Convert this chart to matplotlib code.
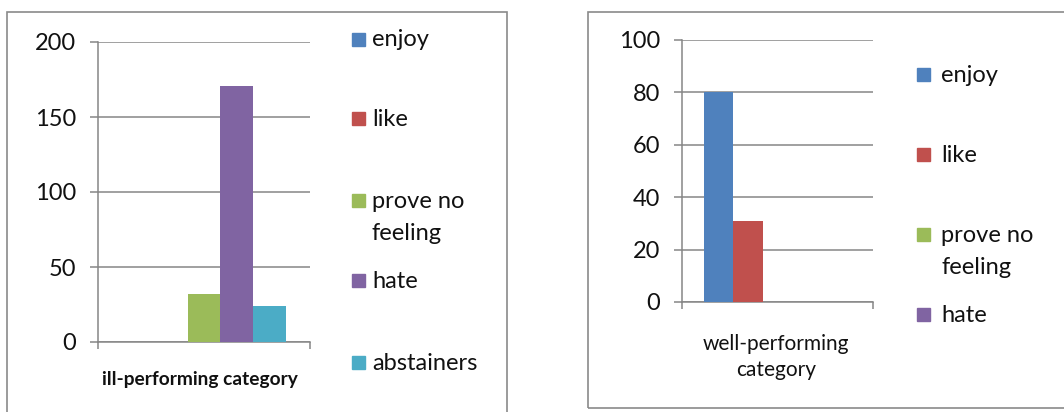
import matplotlib
matplotlib.use("Agg")
import matplotlib.pyplot as plt
from matplotlib.patches import Rectangle

# data
series = ['enjoy', 'like', 'prove no\nfeeling', 'hate', 'abstainers']
colors = ['#4F81BD', '#C0504D', '#9BBB59', '#8064A2', '#4BACC6']
ill_values = [0, 0, 32, 171, 24]
well_values = [80, 31, 0, 0, 0]
ill_ticks = [0, 50, 100, 150, 200]
well_ticks = [0, 20, 40, 60, 80, 100]

plt.rcParams['font.family'] = ['Lato', 'DejaVu Sans']
W, H = 1064, 412
fig = plt.figure(figsize=(W / 100, H / 100), dpi=100)
grid = '#868686'
ink = '#111111'
FS = 17


def px_axes(x0, x1, ytop, ybot):
    return fig.add_axes([x0 / W, (H - ybot) / H, (x1 - x0) / W, (ybot - ytop) / H])


def draw_bars(ax, values, ticks):
    w = 1 / 6.5
    for i, (v, c) in enumerate(zip(values, colors)):
        ax.bar((i - 2) * w, v, width=w, color=c, zorder=3)
    ax.set_xlim(-0.5, 0.5)
    ax.set_ylim(ticks[0], ticks[-1])
    ax.set_yticks(ticks)
    ax.yaxis.grid(True, color=grid, lw=1.1, zorder=0)
    ax.set_xticks([-0.5, 0.5])
    ax.set_xticklabels([])
    ax.tick_params(axis='x', length=5, color=grid, width=1.1)
    ax.tick_params(axis='y', length=6, color=grid, width=1.1, labelsize=FS,
                   pad=10, labelcolor=ink)
    for s in ['top', 'right']:
        ax.spines[s].set_visible(False)
    for s in ['left', 'bottom']:
        ax.spines[s].set_color(grid)
        ax.spines[s].set_linewidth(1.1)


def draw_legend(labels, sq_x, txt_x, ys):
    for lab, c, y in zip(labels, colors, ys):
        fig.patches.append(Rectangle(((sq_x) / W, (H - y - 7) / H), 13 / W, 13 / H,
                                     transform=fig.transFigure, color=c))
        for k, line in enumerate(lab.split('\n')):
            fig.text(txt_x / W, (H - y - 1 - k * 32) / H, line, fontsize=FS,
                     va='center', ha='left', color=ink)


# panel borders
fig.patches.append(Rectangle((7 / W, -0.05), 500 / W, (H - 12) / H + 0.05,
                             transform=fig.transFigure, fill=False, ec='#8a8a8a', lw=1.2))
fig.patches.append(Rectangle((588 / W, (H - 408) / H), 500 / W, 396 / H,
                             transform=fig.transFigure, fill=False, ec='#8a8a8a', lw=1.2))

# left chart: ill-performing
ax1 = px_axes(98, 310, 42, 342)
draw_bars(ax1, ill_values, ill_ticks)
fig.text(200 / W, (H - 379) / H, 'ill-performing category', fontsize=13.8,
         fontweight='bold', ha='center', va='center', color=ink)
draw_legend(series, 352, 372, [39, 118, 200, 280, 362])

# right chart: well-performing
ax2 = px_axes(682, 873, 40, 302)
draw_bars(ax2, well_values, well_ticks)
fig.text(776 / W, (H - 344) / H, 'well-performing', fontsize=15,
         ha='center', va='center', color=ink)
fig.text(776 / W, (H - 370) / H, 'category', fontsize=15,
         ha='center', va='center', color=ink)
draw_legend(series[:4], 917, 941, [74, 154, 234, 314])

fig.savefig('out.png', dpi=100)
